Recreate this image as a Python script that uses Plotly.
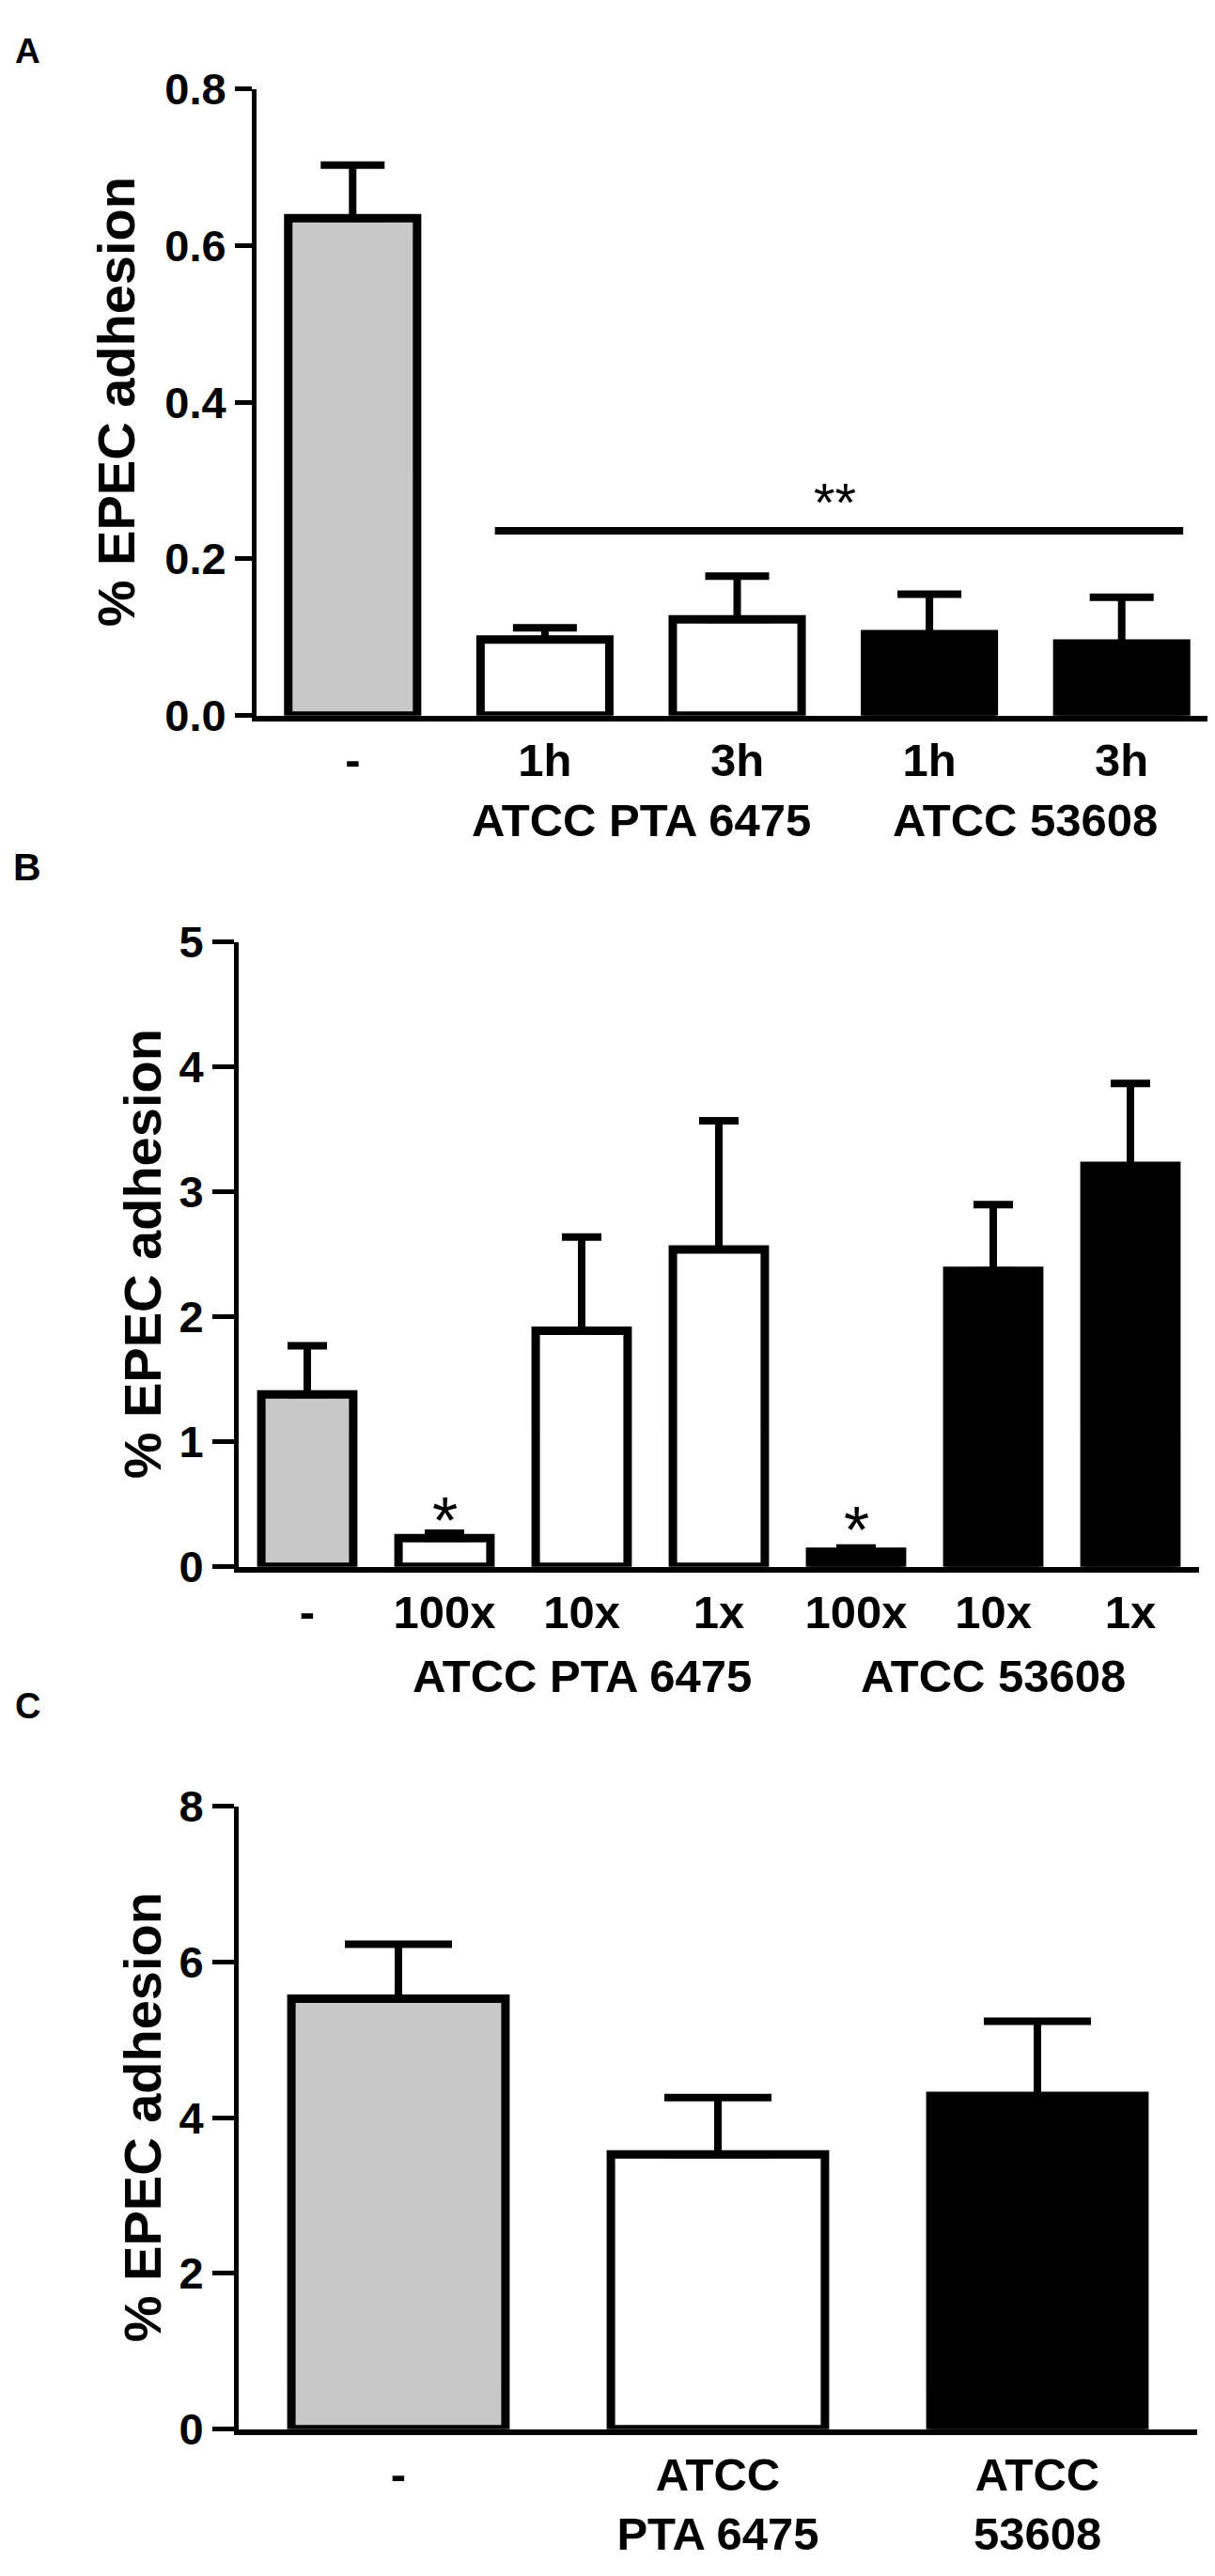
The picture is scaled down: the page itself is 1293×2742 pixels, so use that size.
import plotly.graph_objects as go

W, H = 1293, 2742
FONT = "Liberation Sans"

# ---------------- Panel A ----------------
a_labels = ["-", "1h", "3h", "1h", "3h"]
a_values = [0.635, 0.097, 0.123, 0.104, 0.092]
a_errors = [0.068, 0.015, 0.055, 0.051, 0.059]
a_colors = ["#c8c8c8", "white", "white", "black", "black"]
a_groups = ["ATCC PTA 6475", "ATCC 53608"]
a_group_pos = [1.5, 3.5]
a_ticks = [0.0, 0.2, 0.4, 0.6, 0.8]
a_tick_text = ["0.0", "0.2", "0.4", "0.6", "0.8"]
a_sig_span = [0.74, 4.32]
a_sig_y = 0.236
a_sig_text = "**"
a_sig_text_pos = [2.51, 0.286]

# ---------------- Panel B ----------------
b_labels = ["-", "100x", "10x", "1x", "100x", "10x", "1x"]
b_values = [1.38, 0.23, 1.89, 2.54, 0.12, 2.37, 3.21]
b_errors = [0.39, 0.04, 0.75, 1.03, 0.03, 0.53, 0.66]
b_colors = ["#c8c8c8", "white", "white", "white", "black", "black", "black"]
b_groups = ["ATCC PTA 6475", "ATCC 53608"]
b_group_pos = [2, 5]
b_ticks = [0, 1, 2, 3, 4, 5]
b_star_pos = [1, 4]
b_star_y = [0.465, 0.39]

# ---------------- Panel C ----------------
c_labels = ["-", "ATCC<br>PTA 6475", "ATCC<br>53608"]
c_values = [5.53, 3.53, 4.28]
c_errors = [0.70, 0.73, 0.96]
c_colors = ["#c8c8c8", "white", "black"]
c_ticks = [0, 2, 4, 6, 8]

y_title = "% EPEC adhesion"

fig = go.Figure()


def add_bars(values, errors, colors, xa, ya, cap):
    n = len(values)
    fig.add_trace(go.Bar(
        x=list(range(n)), y=values,
        marker=dict(color=colors, line=dict(color="black", width=9)),
        error_y=dict(type="data", array=errors, arrayminus=[0] * n,
                     symmetric=False, color="black", thickness=8, width=cap),
        xaxis=xa, yaxis=ya, showlegend=False, hoverinfo="skip",
    ))


add_bars(a_values, a_errors, a_colors, "x", "y", 34)
add_bars(b_values, b_errors, b_colors, "x2", "y2", 21)
add_bars(c_values, c_errors, c_colors, "x3", "y3", 57)

tickfont_y = dict(family=FONT, size=47, color="black", weight="bold")
tickfont_x = dict(family=FONT, size=49, color="black", weight="bold")


def xaxis(dom, labels, anchor):
    n = len(labels)
    return dict(domain=dom, range=[-0.5, n - 0.5], tickvals=list(range(n)),
                ticktext=labels, ticks="", showline=True, linewidth=6,
                linecolor="black", showgrid=False, zeroline=False,
                tickfont=tickfont_x, anchor=anchor, fixedrange=True)


def yaxis(dom, ticks, text, anchor, tlen):
    return dict(domain=dom, range=[0, ticks[-1]], tickvals=ticks, ticktext=text,
                ticks="outside", ticklen=tlen, tickwidth=5, tickcolor="black",
                showline=True, linewidth=5, linecolor="black", showgrid=False,
                zeroline=False, tickfont=tickfont_y, anchor=anchor, fixedrange=True)


fig.update_layout(
    width=W, height=H, margin=dict(l=0, r=0, t=0, b=0),
    paper_bgcolor="white", plot_bgcolor="white", bargap=0.33,
    xaxis=xaxis([265 / W, 1288 / W], a_labels, "y"),
    yaxis=yaxis([1 - 741 / H, 1 - 61 / H], a_ticks, a_tick_text, "x", 18),
    xaxis2=xaxis([246 / W, 1268 / W], b_labels, "y2"),
    yaxis2=yaxis([1 - 1665 / H, 1 - 987 / H], b_ticks, [str(t) for t in b_ticks], "x2", 23),
    xaxis3=xaxis([246 / W, 1266 / W], c_labels, "y3"),
    yaxis3=yaxis([1 - 2601 / H, 1 - 1925 / H], c_ticks, [str(t) for t in c_ticks], "x3", 23),
)

# significance bar in panel A
fig.add_shape(type="line", xref="x", yref="y", x0=a_sig_span[0], x1=a_sig_span[1],
              y0=a_sig_y, y1=a_sig_y, line=dict(color="black", width=8))

ann = []
ann.append(dict(xref="x", yref="y", x=a_sig_text_pos[0], y=a_sig_text_pos[1],
                text=a_sig_text, showarrow=False, yshift=-11,
                font=dict(family=FONT, size=58, color="black")))
for px, py in zip(b_star_pos, b_star_y):
    ann.append(dict(xref="x2", yref="y2", x=px, y=py, text="*", showarrow=False,
                    yshift=-13, font=dict(family=FONT, size=70, color="black")))

group_font = dict(family=FONT, size=49, color="black", weight="bold")
for g, gx in zip(a_groups, a_group_pos):
    ann.append(dict(xref="x", yref="paper", x=gx, y=1 - 855 / H, text=g,
                    showarrow=False, xanchor="center", yanchor="middle", font=group_font))
for g, gx in zip(b_groups, b_group_pos):
    ann.append(dict(xref="x2", yref="paper", x=gx, y=1 - 1783 / H, text=g,
                    showarrow=False, xanchor="center", yanchor="middle", font=group_font))

# y-axis titles
title_font = dict(family=FONT, size=56, color="black", weight="bold")
for yref, xpos in [("y domain", 115), ("y2 domain", 143), ("y3 domain", 143)]:
    ann.append(dict(xref="paper", yref=yref, x=xpos / W, y=0.5, text=y_title,
                    textangle=-90, showarrow=False, xanchor="center",
                    yanchor="middle", font=title_font))

# panel letters
for letter, ly, sz in [("A", 20, 37), ("B", 905, 41), ("C", 1816, 38)]:
    ann.append(dict(xref="paper", yref="paper", x=21 / W, y=1 - ly / H, text=letter,
                    showarrow=False, xanchor="center", yanchor="middle",
                    font=dict(family=FONT, size=sz, color="black", weight="bold")))

fig.update_layout(annotations=ann)
fig.write_html("out.html")
